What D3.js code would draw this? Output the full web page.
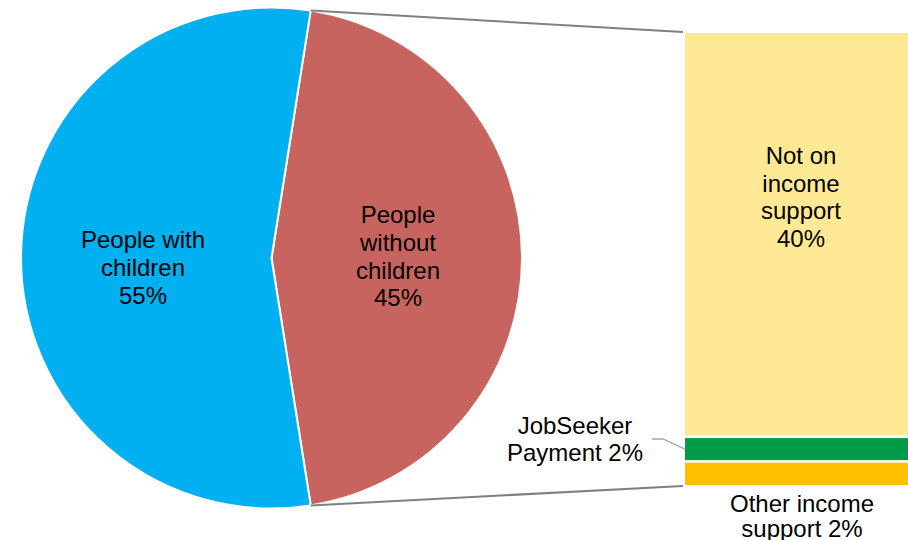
<!DOCTYPE html>
<html><head><meta charset="utf-8">
<script src="https://cdn.jsdelivr.net/npm/d3@7"></script>
<style>body{margin:0;background:#fff}svg{display:block}text{font-family:"Liberation Sans",Arial,sans-serif;font-size:24px;fill:#000}</style>
</head><body><svg id="c" width="908" height="540"></svg>
<script>
// Pie data
const pieCategories = ["People without children", "People with children"];
const pieValues = [45, 55];
const pieLabels = [["People","without","children","45%"],["People with","children","55%"]];
// Bar (breakdown of people without children), bottom to top
const barCategories = ["Other income support", "JobSeeker Payment", "Not on income support"];
const barValues = [2.35, 2.45, 40.2];
const barLabels = [["Other income","support 2%"],["JobSeeker","Payment 2%"],["Not on","income","support","40%"]];

const pieColors = ["#C8645F", "#00B0F0"];
const barColors = ["#FFC000", "#009A48", "#FFE994"];

const svg = d3.select("#c");
const cx = 271.5, cy = 258, R = 250.5;
const a0 = Math.PI/2 - Math.PI*pieValues[0]/100;

const pie = d3.pie().sort(null).startAngle(a0).endAngle(a0 + 2*Math.PI);
const arcs = pie(pieValues);
const arc = d3.arc().innerRadius(0).outerRadius(R);
const g = svg.append("g").attr("transform", `translate(${cx},${cy})`);
g.selectAll("path").data(arcs).join("path")
  .attr("d", arc).attr("fill", (d,i)=>pieColors[i])
  .attr("stroke", "#fff").attr("stroke-width", 2).attr("stroke-linejoin","round");

// pie labels
const pieLabelPos = [[398, 223.3], [143, 248.3]];
pieLabels.forEach((lines,i)=>{
  const t = svg.append("text").attr("text-anchor","middle");
  lines.forEach((l,j)=>t.append("tspan").attr("x", pieLabelPos[i][0]).attr("y", pieLabelPos[i][1] + j*27.6).text(l));
});

// bar
const bx0 = 685, bx1 = 909;
const total = d3.sum(barValues);
const y = d3.scaleLinear().domain([0, total]).range([485, 33]);
let cum = 0;
const stacks = barValues.map(v => { const s = {y0: cum, y1: cum + v}; cum += v; return s; });
svg.selectAll("rect.bar").data(stacks).join("rect").attr("class","bar")
  .attr("x", bx0).attr("width", bx1 - bx0)
  .attr("y", d => y(d.y1) + (d.y1 < total ? 1.3 : 0))
  .attr("height", d => y(d.y0) - y(d.y1) - (d.y1 < total ? 1.3 : 0) - (d.y0 > 0 ? 1.3 : 0))
  .attr("fill", (d,i)=>barColors[i]);

// connector lines
const pt = a => [cx + R*Math.sin(a), cy - R*Math.cos(a)];
const pTop = pt(a0), pBot = pt(a0 + 2*Math.PI*pieValues[0]/100);
svg.append("line").attr("x1", pTop[0]).attr("y1", pTop[1]).attr("x2", bx0-2).attr("y2", y(total)-1)
  .attr("stroke","#808080").attr("stroke-width",2);
svg.append("line").attr("x1", pBot[0]).attr("y1", pBot[1]).attr("x2", bx0-2).attr("y2", y(0)+1)
  .attr("stroke","#808080").attr("stroke-width",2);

// JobSeeker leader
const jsMid = (y(stacks[1].y0) + y(stacks[1].y1))/2;
svg.append("polyline").attr("points", `652,439 663,439 ${bx0},${jsMid}`)
  .attr("fill","none").attr("stroke","#A6A6A6").attr("stroke-width",1.3);

// bar labels
const barLabelPos = [[802, 511.5], [575, 434], [801, 164.3]];
const barLineGap = [25.8, 27, 27.4];
barLabels.forEach((lines,i)=>{
  const t = svg.append("text").attr("text-anchor","middle");
  lines.forEach((l,j)=>t.append("tspan").attr("x", barLabelPos[i][0]).attr("y", barLabelPos[i][1] + j*barLineGap[i]).text(l));
});
</script></body></html>
